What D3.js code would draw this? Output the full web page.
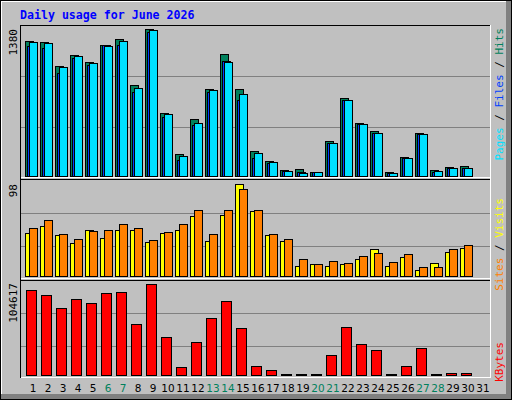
<!DOCTYPE html>
<html><head><meta charset="utf-8">
<script src="https://cdn.jsdelivr.net/npm/d3@7"></script>
<style>body{margin:0;background:#fff}</style>
</head><body>
<svg id="chart" width="512" height="400"></svg>
<script>
const days = d3.range(1, 32);
const weekend = [6, 7, 13, 14, 20, 21, 27, 28];
const hits = [1267,1258,1033,1136,1070,1230,1286,854,1380,592,207,535,817,1145,817,235,141,56,66,38,329,732,498,422,38,178,404,56,85,94,0];
const files = [1220,1202,967,1108,1042,1230,1230,789,1352,554,150,479,789,1080,714,169,122,47,38,38,310,714,488,404,28,169,394,38,75,75,0];
const pages = [1258,1249,1024,1127,1061,1221,1268,826,1371,582,188,498,808,1071,770,216,131,47,28,38,310,714,488,404,28,169,394,47,75,75,0];
const visits = [46,53,44,35,49,41,49,49,36,46,49,64,37,65,98,69,44,37,11,13,11,13,18,29,11,20,6,14,26,30,0];
const sites = [51,60,45,39,48,49,55,51,38,47,55,70,45,70,93,70,45,39,18,13,16,14,21,25,15,23,10,10,29,33,0];
const kbytes = [97720,91970,77020,87370,82770,94270,95420,58630,104617,43690,9200,37940,65530,85070,54030,10350,5750,1150,1150,1150,22990,55180,35640,28740,1150,10350,31040,1150,2300,2300,0];

const svg = d3.select("#chart");
const mono = "'DejaVu Sans Mono', monospace";

// frame with bevel
svg.append("rect").attr("x", 0).attr("y", 0).attr("width", 512).attr("height", 400).attr("fill", "#000");
svg.append("rect").attr("x", 1).attr("y", 1).attr("width", 510).attr("height", 398).attr("fill", "#808080");
svg.append("rect").attr("x", 1).attr("y", 1).attr("width", 505).attr("height", 393).attr("fill", "#fff");
svg.append("rect").attr("x", 2).attr("y", 2).attr("width", 504).attr("height", 392).attr("fill", "#c0c0c0");

svg.append("text").attr("x", 20).attr("y", 19)
   .style("font-family", mono).style("font-size", "11.6px").style("font-weight", "bold")
   .attr("fill", "#0000ff").text("Daily usage for June 2026");

const x = d3.scaleBand().domain(days).range([20, 485]).paddingInner(0).paddingOuter(0);
const slotX = d => 25 + (d - 1) * 15;

// panel backgrounds
const panels = [[25, 178], [179, 279], [280, 378]];
panels.forEach(([t, b]) => {
    svg.append("line").attr("x1", 20).attr("x2", 491).attr("y1", t + 0.5).attr("y2", t + 0.5).attr("stroke", "#000");
    svg.append("line").attr("x1", 20).attr("x2", 491).attr("y1", b - 0.5).attr("y2", b - 0.5).attr("stroke", "#fff");
});
svg.append("line").attr("x1", 20.5).attr("x2", 20.5).attr("y1", 25).attr("y2", 378).attr("stroke", "#000");
svg.append("line").attr("x1", 490.5).attr("x2", 490.5).attr("y1", 25).attr("y2", 378).attr("stroke", "#fff");

function panel(base, top, max, grid) {
    const y = d3.scaleLinear().domain([0, max]).range([base, top]);
    grid.forEach(g => svg.append("line").attr("x1", 21).attr("x2", 490)
        .attr("y1", g + 0.5).attr("y2", g + 0.5).attr("stroke", "#808080"));
    return y;
}

function bars(vals, y, dx, w, fill) {
    svg.append("g").selectAll("rect").data(days.filter((d, i) => vals[i] > 0)).join("rect")
       .attr("x", d => slotX(d) + dx + 0.5)
       .attr("y", d => Math.round(y(vals[d - 1])) + 0.5)
       .attr("width", w)
       .attr("height", d => Math.max(0, y(0) - Math.round(y(vals[d - 1]))))
       .attr("fill", fill).attr("stroke", "#000").attr("shape-rendering", "crispEdges");
}

// top panel
const y1 = panel(176, 29, 1380, [76, 127]);
bars(hits, y1, 0, 8, "#00805c");
bars(files, y1, 2, 8, "#0040ff");
bars(pages, y1, 4, 8, "#00e0ff");

// middle panel
const y2 = panel(276, 184, 98, [213, 246]);
bars(visits, y2, 0, 8, "#ffff00");
bars(sites, y2, 4, 8, "#ff8000");

// bottom panel
const y3 = panel(375, 284, 104617, [313, 346]);
bars(kbytes, y3, 1, 10, "#ff0000");

// left max labels
function vlabel(xp, yEnd, parts, anchor) {
    const t = svg.append("text").attr("transform", `translate(${xp},${yEnd}) rotate(-90)`)
       .attr("text-anchor", anchor).style("font-family", mono).style("font-size", "11px");
    parts.forEach(([s, c]) => t.append("tspan").attr("fill", c).text(s));
}
vlabel(17, 29, [["1380", "#000"]], "end");
vlabel(17, 184, [["98", "#000"]], "end");
vlabel(17, 283, [["104617", "#000"]], "end");
vlabel(503, 28, [["Pages", "#00e0ff"], [" / ", "#000"], ["Files", "#0040ff"], [" / ", "#000"], ["Hits", "#00805c"]], "end");
vlabel(503, 198, [["Sites", "#ff8000"], [" / ", "#000"], ["Visits", "#ffff00"]], "end");
vlabel(503, 342, [["KBytes", "#ff0000"]], "end");

// day labels
svg.append("g").selectAll("text").data(days).join("text")
   .attr("x", d => slotX(d) + 8).attr("y", 392).attr("text-anchor", "middle")
   .style("font-family", "'DejaVu Sans', sans-serif").style("font-size", "10.5px")
   .attr("fill", d => weekend.includes(d) ? "#00805c" : "#000").text(d => d);
</script>
</body></html>
